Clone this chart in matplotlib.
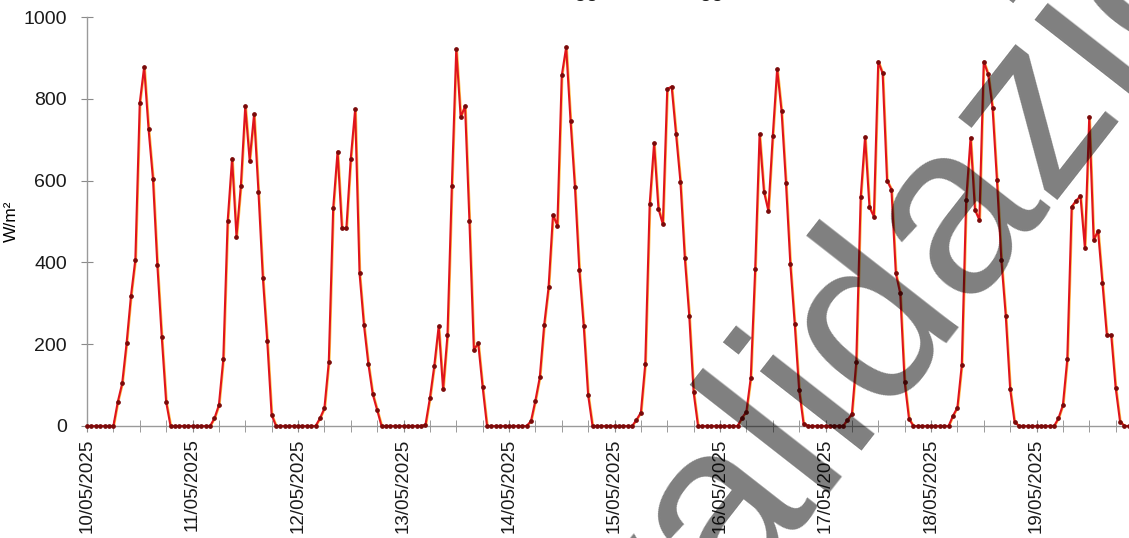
import numpy as np
import matplotlib
matplotlib.use("Agg")
import matplotlib.pyplot as plt
import matplotlib.transforms as mtransforms
from matplotlib.ticker import MultipleLocator

plt.rcParams['font.family'] = ['Liberation Sans', 'DejaVu Sans']

# valori orari (W/m2), un giorno per lista (ore 0..23)
g10 = [0, 0, 0, 0, 0, 0, 0, 59, 104, 202, 318, 407, 790, 878, 726, 605, 394, 218, 59, 0, 0, 0, 0, 0]
g11 = [0, 0, 0, 0, 0, 19, 51, 163, 501, 654, 463, 588, 782, 649, 762, 573, 363, 208, 27, 0, 0, 0, 0, 0]
g12 = [0, 0, 0, 0, 0, 19, 43, 156, 532, 671, 483, 483, 654, 774, 373, 247, 152, 78, 39, 0, 0, 0, 0, 0]
g13 = [0, 0, 0, 0, 0, 3, 68, 147, 244, 90, 222, 588, 922, 755, 782, 500, 187, 202, 95, 0, 0, 0, 0, 0]
g14 = [0, 0, 0, 0, 0, 12, 62, 119, 247, 339, 516, 490, 857, 926, 746, 584, 381, 244, 76, 0, 0, 0, 0, 0]
g15 = [0, 0, 0, 0, 0, 15, 33, 152, 542, 691, 531, 493, 824, 830, 714, 597, 410, 270, 82, 0, 0, 0, 0, 0]
g16 = [0, 0, 0, 0, 0, 20, 35, 118, 383, 713, 573, 526, 709, 873, 770, 595, 396, 249, 88, 6, 0, 0, 0, 0]
g17 = [0, 0, 0, 0, 0, 15, 29, 157, 559, 707, 535, 512, 891, 862, 600, 578, 373, 324, 108, 17, 0, 0, 0, 0]
g18 = [0, 0, 0, 0, 0, 25, 45, 149, 553, 705, 528, 504, 891, 860, 778, 601, 406, 270, 91, 10, 0, 0, 0, 0]
g19 = [0, 0, 0, 0, 0, 19, 51, 163, 536, 551, 562, 436, 756, 455, 477, 349, 222, 222, 94, 11, 0, 0, 0, 0]

giorni = ['10/05/2025', '11/05/2025', '12/05/2025', '13/05/2025', '14/05/2025',
          '15/05/2025', '16/05/2025', '17/05/2025', '18/05/2025', '19/05/2025']

valori = np.array(g10 + g11 + g12 + g13 + g14 + g15 + g16 + g17 + g18 + g19, dtype=float)
ore = np.arange(len(valori))

W, H = 1129, 538
fig = plt.figure(figsize=(W / 100, H / 100), dpi=100)
ax = fig.add_axes([87 / W, 1 - 426 / H, 1 - 87 / W, (426 - 17) / H])

# leggero alone arancione sotto la linea rossa
off = mtransforms.offset_copy(ax.transData, fig=fig, x=1.0, y=0, units='dots')
ax.plot(ore, valori, color='#ffb020', lw=1.1, alpha=0.8, transform=off, clip_on=False, zorder=2)
ax.plot(ore, valori, color='#e0141c', lw=1.5, marker='o', ms=2.4,
        mfc='#7a0a0a', mec='#7a0a0a', clip_on=False, zorder=3)

ax.set_xlim(0, (W - 87) / (105.5 / 24))
ax.set_ylim(0, 1000)
ax.set_yticks([0, 200, 400, 600, 800, 1000])
ax.set_xticks(np.arange(len(giorni)) * 24)
ax.set_xticklabels(giorni, rotation=90)
ax.xaxis.set_minor_locator(MultipleLocator(6))

for s in ['top', 'right']:
    ax.spines[s].set_visible(False)
for s in ['left', 'bottom']:
    ax.spines[s].set_color('#9a9a9a')
    ax.spines[s].set_linewidth(1.0)

ax.tick_params(axis='both', which='both', direction='inout', color='#8a8a8a',
               labelcolor='#1a1a1a')
ax.tick_params(axis='y', length=9, pad=10, labelsize=14)
ax.tick_params(axis='x', which='major', length=8, pad=5, labelsize=13.5)
ax.tick_params(axis='x', which='minor', length=8)

ax.set_ylabel('W/m²', fontsize=12.5, labelpad=3)

fig.text(310 / W, 1 + 3 / H, 'Radiazione solare dal 10 maggio al 19 maggio',
         fontsize=15, ha='left', va='baseline', color='#1a1a1a')

# filigrana
fig.text(661 / W, 1 - 707 / H, 'validazione', fontsize=175, rotation=52,
         rotation_mode='anchor', ha='left', va='baseline', color='black',
         alpha=0.5, zorder=10)

fig.savefig('out.png', dpi=100)
